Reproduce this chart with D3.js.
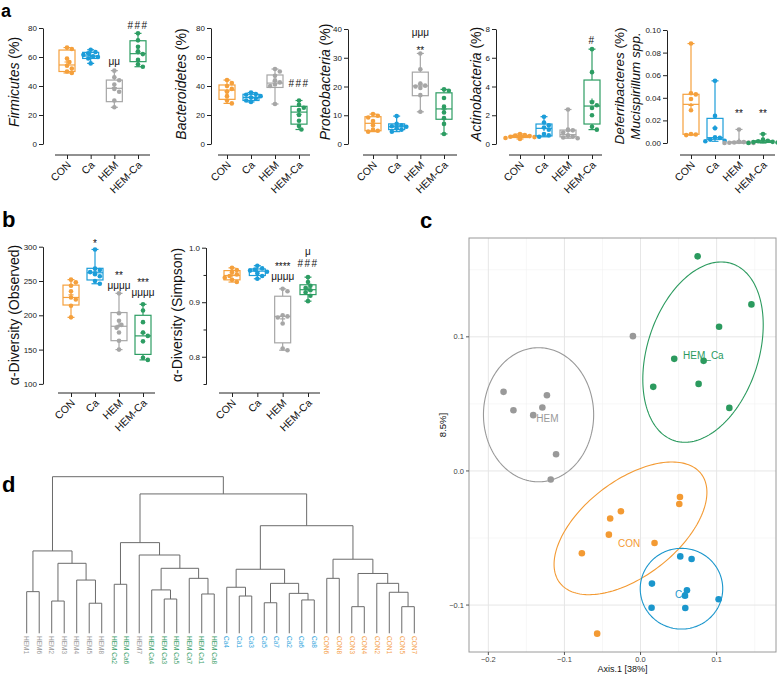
<!DOCTYPE html>
<html><head><meta charset="utf-8">
<script src="https://cdn.jsdelivr.net/npm/d3@7"></script>
<style>
body{margin:0;background:#fff}
svg{font-family:"Liberation Sans",Arial,sans-serif}
</style>
</head><body>
<svg id="chart" width="777" height="674"></svg>
<script>
// ---------------- DATA ----------------
const groups = ["CON", "Ca", "HEM", "HEM-Ca"];
const groupColors = ["#f5a03c", "#1b9dd9", "#a6a6a6", "#2d9d63"];

// box stats: [min, q1, median, q3, max]
const firmicutesBox = [[49, 50, 54.5, 64.8, 66.5], [55.6, 59, 60.7, 63.2, 65], [25.3, 29.2, 38.4, 44.1, 50.6], [53.3, 56.8, 62.3, 71.2, 76.3]];
const firmicutesPts = [[66.5, 65.5, 59, 56.5, 54, 52, 50, 49], [65, 63.5, 62.5, 61.5, 60.5, 60, 59, 55.6], [50.6, 46, 44, 41, 38, 36, 30, 25.3], [76.3, 71.5, 67, 64, 62, 58, 55, 53.3]];
const bacteroidetesBox = [[28, 30.8, 37.2, 40.7, 44.1], [29, 30, 32, 34.3, 35.5], [27.6, 39, 42, 47.6, 51.7], [10, 13.7, 22, 26, 30]];
const bacteroidetesPts = [[44.1, 42, 40, 38, 36, 33, 30, 28], [35.5, 34.5, 34, 33, 32, 31.5, 30, 29], [51.7, 50, 47, 44, 42.5, 41, 40, 27.6], [30, 27, 25, 23.5, 20, 16, 12.5, 10]];
const proteobacteriaBox = [[4.3, 4.6, 7.2, 9.5, 10.4], [4.3, 5, 6, 7, 9.7], [11.2, 16.8, 20.2, 25, 31.5], [3.5, 8.6, 12.2, 17.8, 19]];
const proteobacteriaPts = [[10.4, 9.8, 9.2, 8, 6.5, 5, 4.6, 4.3], [9.7, 7, 6.5, 6.2, 6, 5.5, 5, 4.3], [31.5, 26, 21, 20.3, 20, 19.5, 17, 11.2], [19, 18.5, 16, 13, 11, 9, 7, 3.5]];
const actinobacteriaBox = [[0.35, 0.45, 0.52, 0.6, 0.7], [0.5, 0.56, 1.09, 1.39, 1.9], [0.4, 0.5, 0.65, 0.97, 2.4], [1.0, 1.39, 2.64, 4.45, 6.6]];
const actinobacteriaPts = [[0.7, 0.62, 0.58, 0.55, 0.5, 0.48, 0.42, 0.35], [1.9, 1.5, 1.3, 1.15, 1.0, 0.7, 0.6, 0.5], [2.4, 1.0, 0.95, 0.8, 0.6, 0.5, 0.45, 0.4], [6.6, 5.0, 2.9, 2.7, 2.5, 2.0, 1.2, 1.0]];
const deferribacteresBox = [[0.007, 0.0077, 0.0342, 0.0431, 0.088], [0.0015, 0.0033, 0.0047, 0.0218, 0.055], [0, 0, 0.0005, 0.001, 0.012], [0, 0.0005, 0.001, 0.002, 0.008]];
const deferribacteresPts = [[0.088, 0.044, 0.043, 0.039, 0.029, 0.008, 0.0075, 0.007], [0.055, 0.024, 0.013, 0.005, 0.0045, 0.003, 0.002, 0.0015], [0.012, 0.001, 0.0008, 0.0005, 0.0003, 0.0002, 0, 0], [0.008, 0.003, 0.002, 0.0015, 0.001, 0.0008, 0.0005, 0]];
const observedBox = [[197, 215, 226, 244, 252], [246, 251.5, 262, 268.5, 296], [150, 163, 184, 204, 232], [135, 143, 170, 200, 216]];
const observedPts = [[252, 248, 243, 235, 226, 223, 214, 197], [296, 268, 266, 263, 260, 257, 250, 246], [232, 203, 192, 186, 182, 175, 163, 150], [216, 207, 190, 175, 170, 162, 138, 135]];
const simpsonBox = [[0.937, 0.941, 0.949, 0.958, 0.963], [0.943, 0.949, 0.957, 0.961, 0.967], [0.812, 0.8255, 0.874, 0.911, 0.9245], [0.902, 0.914, 0.923, 0.932, 0.946]];
const simpsonPts = [[0.963, 0.959, 0.955, 0.951, 0.948, 0.945, 0.941, 0.937], [0.967, 0.962, 0.96, 0.958, 0.956, 0.953, 0.948, 0.943], [0.9245, 0.92, 0.876, 0.874, 0.872, 0.861, 0.815, 0.812], [0.946, 0.937, 0.930, 0.926, 0.922, 0.918, 0.912, 0.902]];

// significance marks: [group index, text, y value of baseline]
const firmicutesMarks = [[2, "μμ", 54.5], [3, "###", 79.3]];
const bacteroidetesMarks = [[3, "###", 39.3]];
const proteobacteriaMarks = [[2, "μμμ", 37.6], [2, "**", 31.3]];
const actinobacteriaMarks = [[3, "#", 6.96]];
const deferribacteresMarks = [[2, "**", 0.023], [3, "**", 0.023]];
const observedMarks = [[1, "*", 299.6], [2, "μμμμ", 238.3], [2, "**", 252.2], [3, "μμμμ", 228], [3, "***", 242]];
const simpsonMarks = [[2, "μμμμ", 0.941], [2, "****", 0.959], [3, "###", 0.9637], [3, "μ", 0.9866]];

// PCoA (Axis.1, Axis.2)
const pcoaNames = ["HEM", "HEM_Ca", "CON", "Ca"];
const pcoaColors = ["#999999", "#2b9a5e", "#f39a33", "#1a96cc"];
const pcoaHEM = [[-0.180, 0.059], [-0.167, 0.0453], [-0.141, 0.0416], [-0.129, 0.0473], [-0.123, 0.0565], [-0.111, 0.0125], [-0.118, -0.0064], [-0.010, 0.1005]];
const pcoaHEMCa = [[0.075, 0.160], [0.1457, 0.1242], [0.1032, 0.1075], [0.0443, 0.0836], [0.0829, 0.0821], [0.0763, 0.0649], [0.0167, 0.0627], [0.1167, 0.047]];
const pcoaCON = [[0.0518, -0.0194], [0.0509, -0.0246], [-0.0258, -0.0301], [-0.0399, -0.0355], [-0.0416, -0.0475], [0.0184, -0.0537], [-0.0771, -0.0614], [-0.057, -0.1213]];
const pcoaCa = [[0.0522, -0.0637], [0.0671, -0.0657], [0.015, -0.084], [0.061, -0.089], [0.0584, -0.093], [0.1026, -0.0957], [0.0145, -0.102], [0.0588, -0.1022]];
// ellipses: [cx, cy, ux, uy, vx, vy] (centre and two semi-axis vectors, data units)
const pcoaEllipses = [
  [-0.134, 0.0419, 0.0724, 0, 0, 0.050],
  [0.0821, 0.0886, 0.0378, 0.0660, 0.0695, -0.0128],
  [-0.0132, -0.0428, 0.0928, 0.0407, 0.0384, -0.0281],
  [0.0538, -0.0878, 0.0542, 0, 0, 0.0301]
];
const pcoaXTicks = [-0.2, -0.1, 0.0, 0.1];
const pcoaYTicks = [-0.1, 0.0, 0.1];

// Dendrogram (merge heights, relative)
const dendro = {h: 1.0, c: [
  {h: 0.526, c: [
    {h: 0.266, c: ["HEM1", "HEM6"]},
    {h: 0.447, c: [
      {h: 0.206, c: ["HEM2", "HEM3"]},
      {h: 0.340, c: ["HEM4", {h: 0.192, c: ["HEM5", "HEM8"]}]}
    ]}
  ]},
  {h: 0.890, c: [
    {h: 0.579, c: [
      {h: 0.313, c: ["HEM Ca2", "HEM Ca6"]},
      {h: 0.500, c: ["HEM7",
        {h: 0.415, c: [
          {h: 0.277, c: ["HEM Ca4", {h: 0.219, c: ["HEM Ca3", "HEM Ca5"]}]},
          {h: 0.351, c: ["HEM Ca7", {h: 0.251, c: ["HEM Ca1", "HEM Ca8"]}]}
        ]}
      ]}
    ]},
    {h: 0.687, c: [
      {h: 0.409, c: [
        {h: 0.294, c: ["Ca4", {h: 0.238, c: ["Ca1", "Ca3"]}]},
        {h: 0.319, c: [
          {h: 0.195, c: ["Ca5", "Ca7"]},
          {h: 0.255, c: ["Ca2", {h: 0.213, c: ["Ca6", "Ca8"]}]}
        ]}
      ]},
      {h: 0.473, c: [
        {h: 0.351, c: ["CON6", "CON8"]},
        {h: 0.382, c: [
          {h: 0.170, c: ["CON3", "CON4"]},
          {h: 0.319, c: ["CON2", {h: 0.262, c: ["CON1", {h: 0.170, c: ["CON5", "CON7"]}]}]}
        ]}
      ]}
    ]}
  ]}
]};

// ---------------- DRAWING ----------------
const svg = d3.select("#chart");
const ink = "#222";

function swarm(vals, y, r) {
  const placed = [], res = new Array(vals.length);
  const order = vals.map((v, i) => i).sort((a, b) => vals[b] - vals[a]);
  order.forEach(i => {
    const py = y(vals[i]);
    for (let k = 0; k < 30; k++) {
      const off = k === 0 ? 0 : (k % 2 ? 1 : -1) * Math.ceil(k / 2) * r * 1.05;
      if (placed.every(p => (p.x - off) ** 2 + (p.y - py) ** 2 >= (2 * r * 0.92) ** 2)) {
        placed.push({x: off, y: py}); res[i] = {dx: off, y: py}; break;
      }
    }
  });
  return res;
}

function boxChart(o) {
  const g = svg.append("g");
  const y = d3.scaleLinear().domain(o.domain).range([o.bottom, o.top]);
  const x = d3.scalePoint().domain(groups).range(o.xr);
  // y axis
  const yg = g.append("g").attr("transform", `translate(${o.ax},0)`)
    .call(d3.axisLeft(y).tickValues(o.ticks).tickFormat(o.fmt).tickSize(4).tickSizeOuter(0).tickPadding(2));
  if (o.minor) g.append("g").attr("transform", `translate(${o.ax},0)`)
    .call(d3.axisLeft(y).tickValues(o.minor).tickFormat("").tickSize(2.5).tickSizeOuter(0));
  g.selectAll(".domain").attr("stroke", ink);
  g.selectAll(".tick line").attr("stroke", ink);
  yg.selectAll("text").attr("font-size", 8).attr("fill", ink).attr("font-family", "Liberation Sans, Arial");
  // x axis
  const xg = g.append("g").attr("transform", `translate(0,${o.xy})`)
    .call(d3.axisBottom(x).tickFormat("").tickSize(4).tickSizeOuter(0));
  xg.select(".domain").attr("d", `M${o.xs},0H${o.xe}`).attr("stroke", ink);
  xg.selectAll(".tick line").attr("stroke", ink);
  groups.forEach(gr => {
    g.append("text").attr("transform", `translate(${x(gr) + 2},${o.xy + 8}) rotate(-45)`)
      .attr("text-anchor", "end").attr("dy", "0.35em").attr("font-size", 10.5).attr("fill", "#111").text(gr);
  });
  // y label
  o.labels.forEach((lab, li) => {
    const t = g.append("text").attr("transform", `translate(${o.lx[li]},${o.ly}) rotate(-90)`)
      .attr("text-anchor", "middle").attr("font-size", o.lfs).attr("fill", "#111");
    lab.forEach(seg => t.append("tspan").attr("font-style", seg[1] ? "italic" : "normal").text(seg[0]));
  });
  // boxes
  const bw = o.bw || 16, cap = 7, r = o.r || 2.3;
  o.box.forEach((b, i) => {
    const cx = x(groups[i]), col = groupColors[i];
    const bg = g.append("g").attr("stroke", col).attr("stroke-width", 1.2).attr("fill", "none");
    bg.append("line").attr("x1", cx).attr("x2", cx).attr("y1", y(b[0])).attr("y2", y(b[1]));
    bg.append("line").attr("x1", cx).attr("x2", cx).attr("y1", y(b[3])).attr("y2", y(b[4]));
    [b[0], b[4]].forEach(v => bg.append("line").attr("x1", cx - cap / 2).attr("x2", cx + cap / 2).attr("y1", y(v)).attr("y2", y(v)));
    bg.append("rect").attr("x", cx - bw / 2).attr("y", y(b[3])).attr("width", bw).attr("height", Math.max(0.5, y(b[1]) - y(b[3]))).attr("fill", "#fff");
    bg.append("line").attr("x1", cx - bw / 2).attr("x2", cx + bw / 2).attr("y1", y(b[2])).attr("y2", y(b[2]));
    const m = y(d3.mean(o.pts[i]));
    bg.append("path").attr("d", `M${cx - 2.5},${m}H${cx + 2.5}M${cx},${m - 2.5}V${m + 2.5}`);
    const sw = swarm(o.pts[i], y, r);
    g.append("g").selectAll("circle").data(sw).join("circle")
      .attr("cx", d => cx + d.dx).attr("cy", d => d.y).attr("r", r).attr("fill", col);
  });
  // marks: one multi-line text per group
  d3.groups(o.marks, mk => mk[0]).forEach(([gi, list]) => {
    const cx = x(groups[gi]);
    const t = g.append("text").attr("text-anchor", "middle").attr("font-size", 10).attr("fill", "#111");
    list.forEach(mk => t.append("tspan").attr("x", cx).attr("y", y(mk[2]))
      .attr("letter-spacing", mk[1].includes("#") ? 1.5 : 0).text(mk[1]));
  });
}

const fmtInt = d3.format("d");
boxChart({domain: [0, 80], top: 28, bottom: 144, ax: 43, ticks: [0, 20, 40, 60, 80], fmt: fmtInt,
  xr: [67, 138], xy: 155, xs: 55, xe: 150, box: firmicutesBox, pts: firmicutesPts, marks: firmicutesMarks,
  labels: [[["Firmicutes", true], [" (%)", false]]], lx: [19], ly: 82, lfs: 14});
boxChart({domain: [0, 80], top: 28, bottom: 144, ax: 211, ticks: [0, 20, 40, 60, 80], fmt: fmtInt,
  xr: [227, 299], xy: 155, xs: 218, xe: 310, box: bacteroidetesBox, pts: bacteroidetesPts, marks: bacteroidetesMarks,
  labels: [[["Bacteroidetes", true], [" (%)", false]]], lx: [186], ly: 84, lfs: 14});
boxChart({domain: [0, 40], top: 29, bottom: 144, ax: 348, ticks: [0, 10, 20, 30, 40], fmt: fmtInt,
  xr: [373, 444], xy: 155, xs: 363, xe: 457, box: proteobacteriaBox, pts: proteobacteriaPts, marks: proteobacteriaMarks,
  labels: [[["Proteobacteria", true], [" (%)", false]]], lx: [330], ly: 82, lfs: 14});
boxChart({domain: [0, 8], top: 29, bottom: 144, ax: 496, ticks: [0, 2, 4, 6, 8], fmt: fmtInt,
  xr: [520, 592], xy: 155, xs: 509, xe: 602, box: actinobacteriaBox, pts: actinobacteriaPts, marks: actinobacteriaMarks,
  labels: [[["Actinobacteria", true], [" (%)", false]]], lx: [481], ly: 84, lfs: 14});
boxChart({domain: [0, 0.10], top: 30, bottom: 143, ax: 667, ticks: [0, 0.02, 0.04, 0.06, 0.08, 0.10], fmt: d3.format(".2f"),
  xr: [691, 763], xy: 155, xs: 680, xe: 775, box: deferribacteresBox, pts: deferribacteresPts, marks: deferribacteresMarks,
  labels: [[["Deferribacteres", true], [" (%)", false]], [["Mucispirillum spp.", true]]], lx: [624, 640], ly: 86, lfs: 13.5});
boxChart({domain: [100, 300], top: 246.7, bottom: 383.9, ax: 43, ticks: [100, 150, 200, 250, 300], fmt: fmtInt,
  xr: [71, 143], xy: 393, xs: 58, xe: 155, box: observedBox, pts: observedPts, marks: observedMarks,
  labels: [[["α-Diversity (Observed)", false]]], lx: [19], ly: 315, lfs: 14});
boxChart({domain: [0.75, 1.0], top: 247.7, bottom: 384, ax: 206, ticks: [0.8, 0.9, 1.0], minor: [0.75, 0.85, 0.95], fmt: d3.format(".1f"),
  xr: [232, 308], xy: 393, xs: 219, xe: 320, box: simpsonBox, pts: simpsonPts, marks: simpsonMarks,
  labels: [[["α-Diversity (Simpson)", false]]], lx: [182], ly: 315, lfs: 14});

// ---------------- Panel c: PCoA ----------------
(function () {
  const L = 469, R = 776, T = 238, B = 652;
  const x = d3.scaleLinear().domain([-0.2254, 0.178]).range([L, R]);
  const y = d3.scaleLinear().domain([-0.135, 0.1737]).range([B, T]);
  const g = svg.append("g");
  g.append("rect").attr("x", L).attr("y", T).attr("width", R - L).attr("height", B - T).attr("fill", "#fff");
  const minorX = [-0.15, -0.05, 0.05, 0.15], minorY = [-0.05, 0.05, 0.15];
  minorX.forEach(v => g.append("line").attr("x1", x(v)).attr("x2", x(v)).attr("y1", T).attr("y2", B).attr("stroke", "#f2f2f2").attr("stroke-width", 0.6));
  minorY.forEach(v => g.append("line").attr("y1", y(v)).attr("y2", y(v)).attr("x1", L).attr("x2", R).attr("stroke", "#f2f2f2").attr("stroke-width", 0.6));
  pcoaXTicks.forEach(v => g.append("line").attr("x1", x(v)).attr("x2", x(v)).attr("y1", T).attr("y2", B).attr("stroke", "#e6e6e6").attr("stroke-width", 1));
  pcoaYTicks.forEach(v => g.append("line").attr("y1", y(v)).attr("y2", y(v)).attr("x1", L).attr("x2", R).attr("stroke", "#e6e6e6").attr("stroke-width", 1));
  // ellipses
  const line = d3.line().x(d => x(d[0])).y(d => y(d[1]));
  pcoaEllipses.forEach((e, i) => {
    const pts = d3.range(0, 2 * Math.PI + 0.001, Math.PI / 90).map(t =>
      [e[0] + e[2] * Math.cos(t) + e[4] * Math.sin(t), e[1] + e[3] * Math.cos(t) + e[5] * Math.sin(t)]);
    g.append("path").attr("d", line(pts)).attr("fill", "none").attr("stroke", pcoaColors[i]).attr("stroke-width", 1.1);
  });
  const sets = [pcoaHEM, pcoaHEMCa, pcoaCON, pcoaCa];
  // labels at centroids
  sets.forEach((s, i) => {
    g.append("text").attr("x", x(d3.mean(s, d => d[0]))).attr("y", y(d3.mean(s, d => d[1])))
      .attr("dy", "1.05em").attr("text-anchor", "middle").attr("font-size", 10).attr("fill", pcoaColors[i]).text(pcoaNames[i]);
  });
  sets.forEach((s, i) => {
    g.append("g").selectAll("circle").data(s).join("circle")
      .attr("cx", d => x(d[0])).attr("cy", d => y(d[1])).attr("r", 3.3).attr("fill", pcoaColors[i]);
  });
  g.append("rect").attr("x", L).attr("y", T).attr("width", R - L).attr("height", B - T).attr("fill", "none").attr("stroke", "#9a9a9a").attr("stroke-width", 1);
  const fmt = v => (v < 0 ? "\u2212" : "") + Math.abs(v).toFixed(1);
  pcoaXTicks.forEach(v => {
    g.append("line").attr("x1", x(v)).attr("x2", x(v)).attr("y1", B).attr("y2", B + 3).attr("stroke", "#555");
    g.append("text").attr("x", x(v)).attr("y", B + 9.5).attr("text-anchor", "middle").attr("font-size", 7.5).attr("fill", "#444").text(fmt(v));
  });
  pcoaYTicks.forEach(v => {
    g.append("line").attr("x1", L - 3).attr("x2", L).attr("y1", y(v)).attr("y2", y(v)).attr("stroke", "#555");
    g.append("text").attr("x", L - 5).attr("y", y(v)).attr("dy", "0.35em").attr("text-anchor", "end").attr("font-size", 7.5).attr("fill", "#444").text(fmt(v));
  });
  g.append("text").attr("x", (L + R) / 2).attr("y", 672).attr("text-anchor", "middle").attr("font-size", 9).attr("fill", "#111").text("Axis.1   [38%]");
  g.append("text").attr("transform", `translate(446,425) rotate(-90)`).attr("text-anchor", "middle").attr("font-size", 9.5).attr("fill", "#111").text("8.5%]");
})();

// ---------------- Panel d: dendrogram ----------------
(function () {
  const root = d3.hierarchy(dendro, d => (typeof d === "string" ? null : d.c));
  const leaves = root.leaves();
  const x = d3.scalePoint().domain(leaves.map(l => l.data)).range([26.7, 414.3]);
  const y = d3.scaleLinear().domain([0, 1]).range([633.3, 476.7]);
  root.eachAfter(n => {
    n.hh = n.children ? n.data.h : 0;
    n.px = n.children ? (n.children[0].px + n.children[n.children.length - 1].px) / 2 : x(n.data);
  });
  const g = svg.append("g");
  root.each(n => {
    if (!n.children) return;
    const a = n.children[0], b = n.children[1];
    g.append("path").attr("d", `M${a.px},${y(a.hh)}V${y(n.hh)}H${b.px}V${y(b.hh)}`)
      .attr("fill", "none").attr("stroke", "#6b6b6b").attr("stroke-width", 1);
  });
  const colOf = s => s.startsWith("HEM Ca") ? "#3aa06a" : s.startsWith("HEM") ? "#9a9a9a" : s.startsWith("Ca") ? "#2aa3dc" : "#f5a04a";
  leaves.forEach(l => {
    g.append("text").attr("transform", `translate(${l.px},636) rotate(90)`).attr("dy", "0.35em")
      .attr("font-size", 6.5).attr("fill", colOf(l.data)).text(l.data);
  });
})();

// panel letters
[["a", 1, 17, 18], ["b", 2, 227, 22], ["c", 420, 228, 22], ["d", 2, 492, 22]].forEach(p => {
  svg.append("text").attr("x", p[1]).attr("y", p[2]).attr("font-size", p[3]).attr("font-weight", "bold").attr("fill", "#000").text(p[0]);
});
</script>
</body></html>
